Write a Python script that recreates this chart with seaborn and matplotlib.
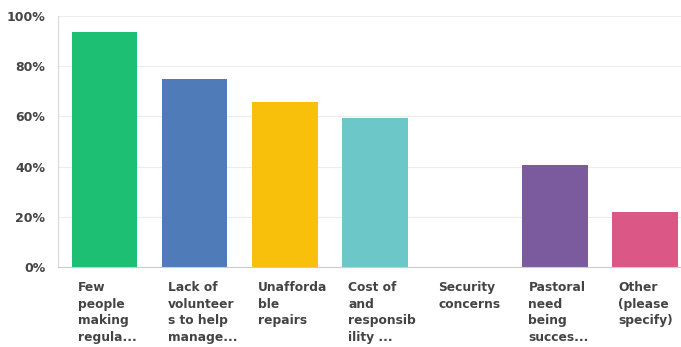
import matplotlib.pyplot as plt
import matplotlib.transforms as mtransforms
import seaborn as sns
import pandas as pd

labels = ['Few\npeople\nmaking\nregula...', 'Lack of\nvolunteer\ns to help\nmanage...',
          'Unafforda\nble\nrepairs', 'Cost of\nand\nresponsib\nility ...',
          'Security\nconcerns', 'Pastoral\nneed\nbeing\nsucces...', 'Other\n(please\nspecify)']
values = [93.75, 75.0, 65.63, 59.38, 0.0, 40.63, 21.88]
colors = ['#1DBF73', '#4F7CB8', '#F8BF0B', '#6BC7C8', '#A0A0A0', '#7B5A9E', '#DB5786']
yticks = [0, 20, 40, 60, 80, 100]

df = pd.DataFrame({'label': labels, 'value': values})

plt.rcParams['font.family'] = ['DejaVu Sans']
fig = plt.figure(figsize=(6.81, 3.47), dpi=100)
ax = fig.add_axes([58/681, (347-267)/347, (691.5-58)/681, 251/347])

sns.barplot(data=df, x='label', y='value', hue='label', palette=colors,
            legend=False, width=0.73, saturation=1, ax=ax)

ax.set_xlim(-0.517, len(labels) - 0.483)
ax.set_ylim(0, 100)
ax.set_yticks(yticks)
ax.set_yticklabels(['%d%%' % v for v in yticks], fontsize=9, color='#444444',
                   fontweight='bold')
ax.set_xlabel('')
ax.set_ylabel('')
ax.yaxis.grid(True, color='#ECECEC', lw=0.8)
ax.set_axisbelow(True)
for s in ['top', 'right']:
    ax.spines[s].set_visible(False)
ax.spines['left'].set_color('#D9D9D9')
ax.spines['bottom'].set_color('#CCCCCC')
ax.tick_params(axis='both', length=0)
ax.tick_params(axis='y', pad=9)
ax.tick_params(axis='x', pad=10)

ax.set_xticks(range(len(labels)))
ax.set_xticklabels(labels, ha='left', va='top', fontsize=8.8, color='#444444',
                   linespacing=1.38, fontweight='bold')
offset = mtransforms.ScaledTranslation(-26.5/100, 0, fig.dpi_scale_trans)
for t in ax.get_xticklabels():
    t.set_transform(t.get_transform() + offset)

fig.savefig('out.png', dpi=100)
